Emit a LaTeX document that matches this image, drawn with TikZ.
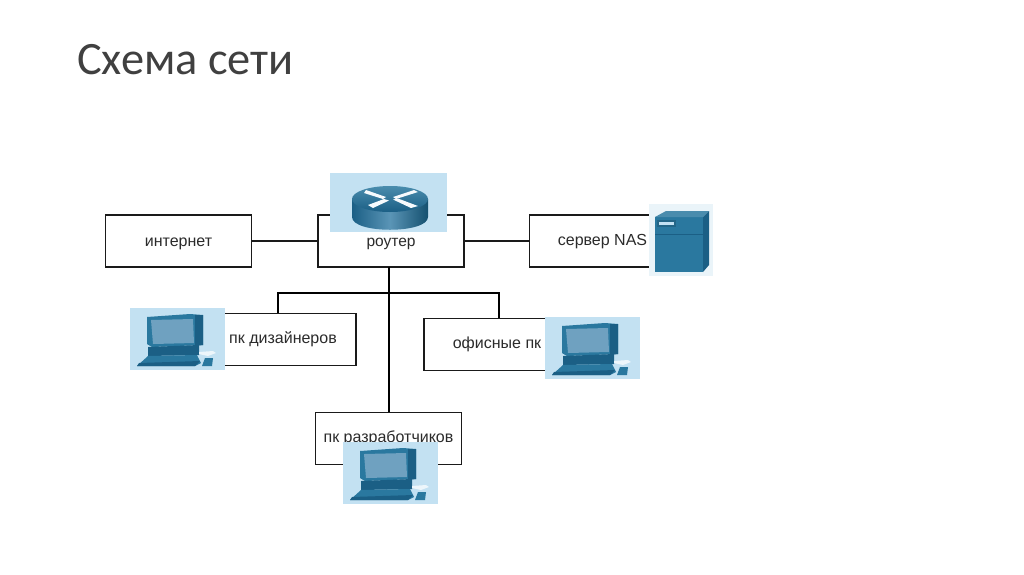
\documentclass[tikz,border=0pt]{standalone}
\usepackage{fontspec}
\setmainfont{Liberation Sans}
\newfontfamily\titlefont{Carlito}
\definecolor{bgblue}{HTML}{C3E1F2}
\definecolor{tealmain}{HTML}{2A789F}
\definecolor{tealdark}{HTML}{1B5F85}
\definecolor{tealdeep}{HTML}{14506F}
\definecolor{tealscreen}{HTML}{6FA1C0}
\definecolor{linecol}{HTML}{1A1A1A}
\definecolor{txt}{HTML}{2B2B2B}
\definecolor{titlecol}{HTML}{404040}
\definecolor{servbg}{HTML}{EAF4F9}
\newcommand{\lbl}[2]{\raisebox{#1}[0pt][0pt]{#2}}
\tikzset{
  netbox/.style={draw=linecol,line width=1.1pt,fill=white,minimum width=146pt,minimum height=52pt,inner sep=0pt,text=txt,font=\fontsize{16}{18}\selectfont},
  thin link/.style={draw=linecol,line width=1.1pt},
  bus link/.style={draw=black,line width=2.2pt},
  pics/pcicon/.style={code={
    \fill[bgblue] (0,0) rectangle (95,62);
    \fill[tealmain] (17,9) -- (60,6) -- (73,7) -- (73,37) -- (22,39) -- (17,36) -- cycle;
    \fill[tealdark] (65,7) -- (73,7) -- (73,37) -- (65,38) -- cycle;
    \fill[tealscreen] (21,12) -- (63,11) -- (64,35) -- (23,36) -- cycle;
    \fill[tealdark] (18,39) -- (69,37) -- (69,47) -- (18,48) -- cycle;
    \fill[white!70!bgblue] (69,44) -- (83,43) -- (86,45) -- (78,48) -- (69,46) -- cycle;
    \fill[tealmain] (18,48) -- (67,47) -- (71,55) -- (65,58) -- (7,58) -- cycle;
    \fill[tealdark] (9,55) -- (70,53) -- (65,58) -- (7,58) -- cycle;
    \fill[tealmain] (75,50) -- (83,50) -- (82,58) -- (72,58) -- cycle;
  }},
}
\begin{document}
\begin{tikzpicture}[x=1pt,y=-1pt]
\useasboundingbox (0,0) rectangle (1024,574);
\fill[white] (0,0) rectangle (1024,574);
\node[anchor=base west,inner sep=0pt,text=titlecol,font=\titlefont\fontsize{46.4}{52}\selectfont] (title) at (77,74) {Схема сети};

\node[netbox] (inet) at (178.5,241) {\lbl{-5.5pt}{интернет}};
\node[netbox] (router) at (391,241) {\lbl{-5pt}{\fontsize{15.5}{18}\selectfont роутер}};
\node[netbox] (nas) at (602.5,241) {\lbl{-4.5pt}{сервер NAS}};
\node[netbox] (design) at (283,339.5) {\lbl{-4pt}{пк дизайнеров}};
\node[netbox] (office) at (497,344.5) {\lbl{-4pt}{офисные пк}};
\node[netbox] (dev) at (388.5,438.5) {\lbl{-4pt}{пк разработчиков}};

\coordinate (busTop) at (389,267);
\coordinate (busJoin) at (389,293);
\coordinate (busL) at (278,293);
\coordinate (busR) at (499,293);

\draw[thin link] (inet) -- (router);
\draw[thin link] (router) -- (nas);
\draw[bus link] (busTop) -- (dev.north -| busTop);
\draw[bus link,line join=miter] (busL |- design.north) -- (busL) -- (busR) -- (busR |- office.north);

% router icon
\fill[bgblue] (330,173) rectangle (447,232);
\shade[left color=tealdark,right color=tealdeep,middle color=tealscreen!70!tealmain] (352,199) -- (352,217) .. controls (352,234) and (428,234) .. (428,217) -- (428,199) -- cycle;
\shade[top color=tealmain!85!white,bottom color=tealdark] (390,199) ellipse[x radius=38,y radius=13];
\fill[white!85!bgblue] (366,190) -- (386,197) -- (383,199) -- (364,193) -- cycle;
\fill[white!85!bgblue] (414,190) -- (393,197) -- (396,199) -- (418,192) -- cycle;
\fill[white!85!bgblue] (384,199) -- (368,205) -- (373,208) -- (389,200.5) -- cycle;
\fill[white!85!bgblue] (393,199.5) -- (411,208) -- (418,206) -- (398,198.5) -- cycle;

% server icon
\fill[servbg] (649,204) rectangle (713,276);
\fill[tealmain] (655,217) rectangle (703,272);
\fill[tealmain!85!white] (655,217) -- (666,211) -- (709,211) -- (703,217) -- cycle;
\fill[tealdark] (703,217) -- (709,211) -- (709,265) -- (703,272) -- cycle;
\fill[tealmain!85!black] (657,220) rectangle (676,227);
\fill[bgblue] (659,222) rectangle (674,225);
\draw[tealdark,line width=.4pt] (655,234) -- (703,234);

\pic at (130,308) {pcicon};
\pic at (545,317) {pcicon};
\pic at (343,442) {pcicon};
\end{tikzpicture}
\end{document}
